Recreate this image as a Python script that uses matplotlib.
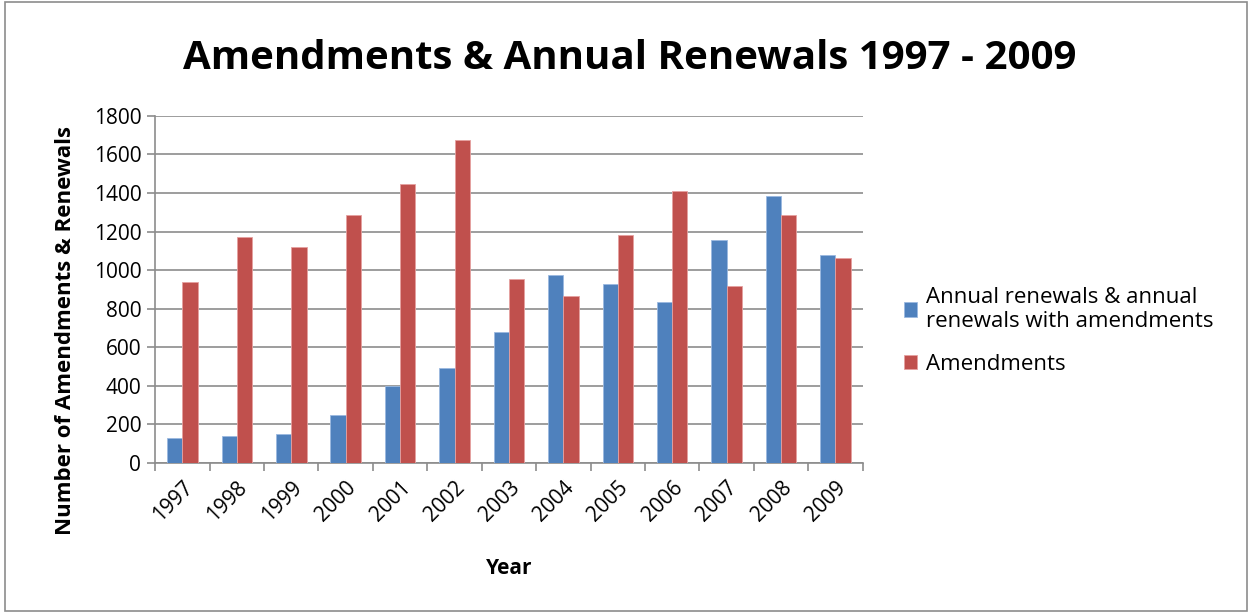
import numpy as np
import matplotlib
matplotlib.use("Agg")
import matplotlib.pyplot as plt
from matplotlib.patches import Rectangle

years = ["1997", "1998", "1999", "2000", "2001", "2002", "2003",
         "2004", "2005", "2006", "2007", "2008", "2009"]
renewals = [128, 140, 149, 248, 399, 494, 681, 976, 929, 835, 1154, 1386, 1080]
amendments = [939, 1173, 1121, 1288, 1449, 1674, 953, 867, 1180, 1409, 915, 1288, 1061]

plt.rcParams['font.family'] = ['Open Sans', 'DejaVu Sans']

fig = plt.figure(figsize=(12.52, 6.13), dpi=100)
ax = fig.add_axes([0.124, 0.245, 0.565, 0.566])

x = np.arange(len(years))
w = 0.28
ax.bar(x - w / 2, renewals, w, color="#4f81bd", edgecolor="#9bb9e0", linewidth=0.6,
       label="Annual renewals & annual\nrenewals with amendments", zorder=3)
ax.bar(x + w / 2, amendments, w, color="#c0504d", edgecolor="#e6a0a0", linewidth=0.6,
       label="Amendments", zorder=3)

ax.set_xlim(-0.5, len(years) - 0.5)
ax.set_ylim(0, 1800)
ax.set_yticks(np.arange(0, 1801, 200))
ax.yaxis.grid(True, color="#8c8c8c", linewidth=1.2, zorder=0)
ax.set_xticks(x)
ax.set_xticklabels(years, rotation=45, ha="right", rotation_mode="anchor", fontsize=15)
ax.tick_params(axis="x", length=0, pad=10)
ax.set_xticks(np.arange(-0.5, len(years)), minor=True)
ax.tick_params(axis="x", which="minor", length=6, color="#8c8c8c", width=1.2)
ax.tick_params(axis="y", labelsize=15, length=6, color="#8c8c8c", width=1.2, pad=4)

for s in ["top", "right"]:
    ax.spines[s].set_visible(False)
for s in ["left", "bottom"]:
    ax.spines[s].set_color("#8c8c8c")
    ax.spines[s].set_linewidth(1.2)

ax.set_xlabel("Year", fontsize=15, fontweight="bold")
ax.xaxis.set_label_coords(0.5, -0.275)
ax.set_ylabel("Number of Amendments & Renewals", fontsize=16, fontweight="bold")
ax.yaxis.set_label_coords(-0.112, 0.38)

fig.text(0.503, 0.905, "Amendments & Annual Renewals 1997 - 2009", ha="center", va="center",
         fontsize=29, fontweight="bold")

ax.legend(loc="center left", bbox_to_anchor=(1.03, 0.38), frameon=False, fontsize=16,
          handlelength=0.6, handleheight=0.6, handletextpad=0.4, labelspacing=1.0)

fig.patches.append(Rectangle((0.004, 0.004), 0.992, 0.992, transform=fig.transFigure,
                             fill=False, edgecolor="#8c8c8c", linewidth=1.2))

fig.savefig("out.png", dpi=100)
